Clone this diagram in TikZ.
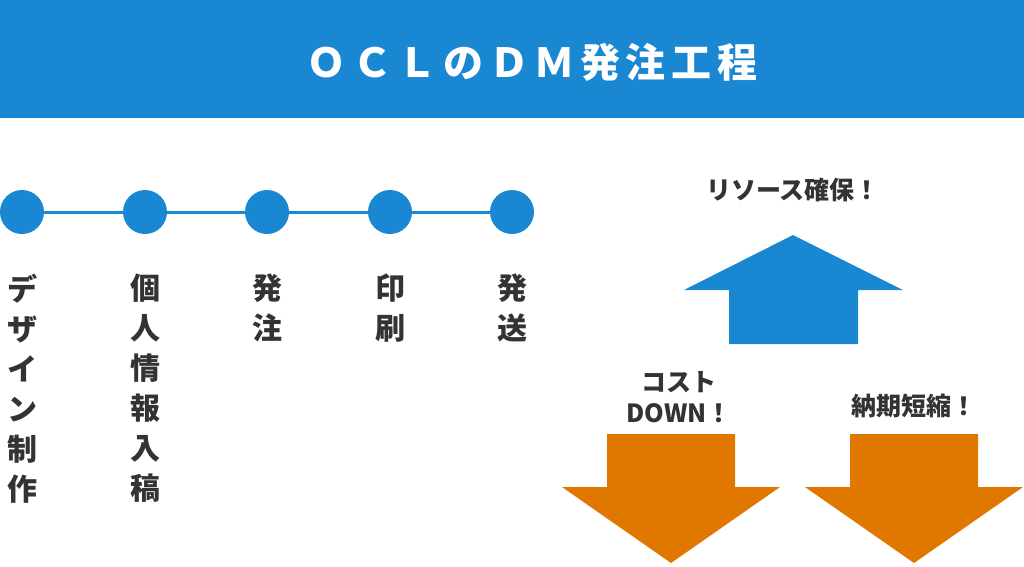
\documentclass[tikz,border=0pt]{standalone}
\usepackage{fontspec}
\setmainfont{Noto Sans CJK JP}
\usetikzlibrary{positioning}
\definecolor{oclblue}{HTML}{1A87D2}
\definecolor{oclorange}{HTML}{E07800}
\definecolor{ocltext}{HTML}{333333}
\tikzset{
  stepdot/.style={circle, fill=oclblue, minimum size=44pt, inner sep=0pt},
  vlabel/.style={anchor=north, align=center, inner sep=0pt, text=ocltext,
    font=\bfseries\fontsize{30}{40}\selectfont},
  alabel/.style={align=center, inner sep=0pt, text=ocltext,
    font=\bfseries\fontsize{25}{31}\selectfont},
}
\begin{document}
\begin{tikzpicture}[x=1pt, y=-1pt]
  \useasboundingbox (0,0) rectangle (1024,566);
  % header
  \fill[oclblue] (0,0) rectangle (1024,118);
  \node[text=white, font=\bfseries\fontsize{40}{42}\selectfont\addfontfeatures{LetterSpace=14}] (title) at (532,62) {ＯＣＬのＤＭ発注工程};
  % timeline
  \node[stepdot] (s1) at (22,212) {};
  \node[stepdot] (s2) at (145,212) {};
  \node[stepdot] (s3) at (267,212) {};
  \node[stepdot] (s4) at (390,212) {};
  \node[stepdot] (s5) at (512,212) {};
  \draw[oclblue, line width=3pt] (s1) -- (s2) -- (s3) -- (s4) -- (s5);
  \node[vlabel] (l1) at (22,274) {デ\\ザ\\イ\\ン\\制\\作};
  \node[vlabel] (l2) at (145,274) {個\\人\\情\\報\\入\\稿};
  \node[vlabel] (l3) at (267,274) {発\\注};
  \node[vlabel] (l4) at (390,274) {印\\刷};
  \node[vlabel] (l5) at (512,274) {発\\送};
  % arrows
  \fill[oclblue] (729,344) -- (729,290) -- (684,290) -- (793,235) -- (903,290) -- (858,290) -- (858,344) -- cycle;
  \fill[oclorange] (607,434) -- (607,487) -- (562,487) -- (671,563) -- (780,487) -- (735,487) -- (735,434) -- cycle;
  \fill[oclorange] (850,434) -- (850,487) -- (805,487) -- (914,563) -- (1023,487) -- (978,487) -- (978,434) -- cycle;
  \node[alabel] (up) at (793,190) {リソース確保！};
  \node[alabel] (cost) at (679,397) {コスト\\DOWN！};
  \node[alabel] (time) at (914,406) {納期短縮！};
\end{tikzpicture}
\end{document}
